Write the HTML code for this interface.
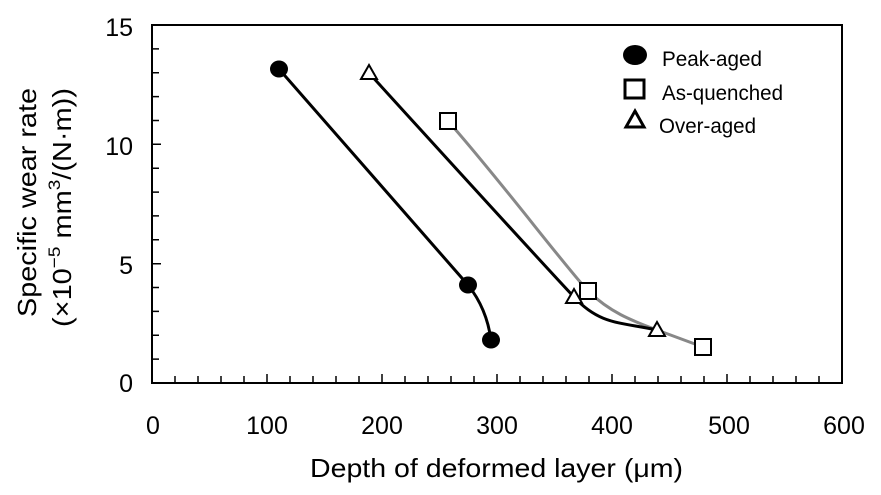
<!DOCTYPE html>
<html><head><style>body{margin:0;background:#fff}svg{display:block}</style></head>
<body>
<svg width="881" height="495" viewBox="0 0 881 495" font-family="Liberation Sans, Arial, sans-serif">
<rect x="152" y="25" width="690" height="358" fill="none" stroke="#000" stroke-width="2"/>
<g stroke="#000" stroke-width="1.5">
<path d="M152 359.1h7M152 335.3h7M152 311.4h7M152 287.5h7M152 263.7h9M152 239.8h7M152 215.9h7M152 192.1h7M152 168.2h7M152 144.3h9M152 120.5h7M152 96.6h7M152 72.7h7M152 48.9h7"/>
<path d="M175 383v-7M198 383v-7M221 383v-7M244 383v-7M267 383v-9M290 383v-7M313 383v-7M336 383v-7M359 383v-7M382 383v-9M405 383v-7M428 383v-7M451 383v-7M474 383v-7M497 383v-9M520 383v-7M543 383v-7M566 383v-7M589 383v-7M612 383v-9M635 383v-7M658 383v-7M681 383v-7M704 383v-7M727 383v-9M750 383v-7M773 383v-7M796 383v-7M819 383v-7"/>
</g>
<g font-size="25" fill="#000" text-anchor="end">
<text x="133" y="392">0</text><text x="133" y="274">5</text><text x="133" y="155">10</text><text x="133" y="36">15</text>
</g>
<g font-size="25" fill="#000" text-anchor="middle">
<text x="153" y="434">0</text><text x="267" y="434">100</text><text x="382" y="434">200</text><text x="497" y="434">300</text><text x="612" y="434">400</text><text x="729" y="434">500</text><text x="844" y="434">600</text>
</g>
<text x="310" y="477" font-size="26" textLength="373" lengthAdjust="spacingAndGlyphs">Depth of deformed layer (μm)</text>
<text transform="translate(36,317) rotate(-90)" font-size="26" textLength="229" lengthAdjust="spacingAndGlyphs">Specific wear rate</text>
<text transform="translate(71,327) rotate(-90)" font-size="26" textLength="239" lengthAdjust="spacingAndGlyphs">(×10<tspan font-size="17" dy="-11">−5</tspan><tspan dy="11"> mm</tspan><tspan font-size="17" dy="-11">3</tspan><tspan dy="11">/(N·m))</tspan></text>
<path d="M448 121 C500 180 560 260 588 291 C610 312 630 320 657 330 L703 347" fill="none" stroke="#888" stroke-width="3"/>
<path d="M369 73 C430 140 530 250 574 297 C600 325 620 322 657 330" fill="none" stroke="#000" stroke-width="3"/>
<path d="M279 69 L468 285 C480 300 488 318 491 340" fill="none" stroke="#000" stroke-width="3"/>
<g fill="#000"><ellipse cx="279" cy="69" rx="9" ry="8.5"/><ellipse cx="468" cy="285" rx="9" ry="8.5"/><ellipse cx="491" cy="340" rx="9" ry="8.5"/></g>
<g fill="#fff" stroke="#000" stroke-width="2">
<rect x="440" y="113" width="16" height="16"/><rect x="580" y="283" width="16" height="16"/><rect x="695" y="339" width="16" height="16"/>
<path d="M369 65 L377 79 L361 79Z"/><path d="M574 289 L582 303 L566 303Z"/><path d="M657 322 L665 336 L649 336Z"/>
</g>
<ellipse cx="635" cy="55" rx="12" ry="10" fill="#000"/>
<rect x="625" y="80" width="19" height="18" fill="#fff" stroke="#000" stroke-width="3"/>
<path d="M635 111 L644 127 L626 127Z" fill="#fff" stroke="#000" stroke-width="3"/>
<g font-size="21" fill="#000">
<text x="662" y="66" textLength="100" lengthAdjust="spacingAndGlyphs">Peak-aged</text>
<text x="662" y="100" textLength="121" lengthAdjust="spacingAndGlyphs">As-quenched</text>
<text x="659" y="133" textLength="97" lengthAdjust="spacingAndGlyphs">Over-aged</text>
</g>
</svg>
</body></html>
